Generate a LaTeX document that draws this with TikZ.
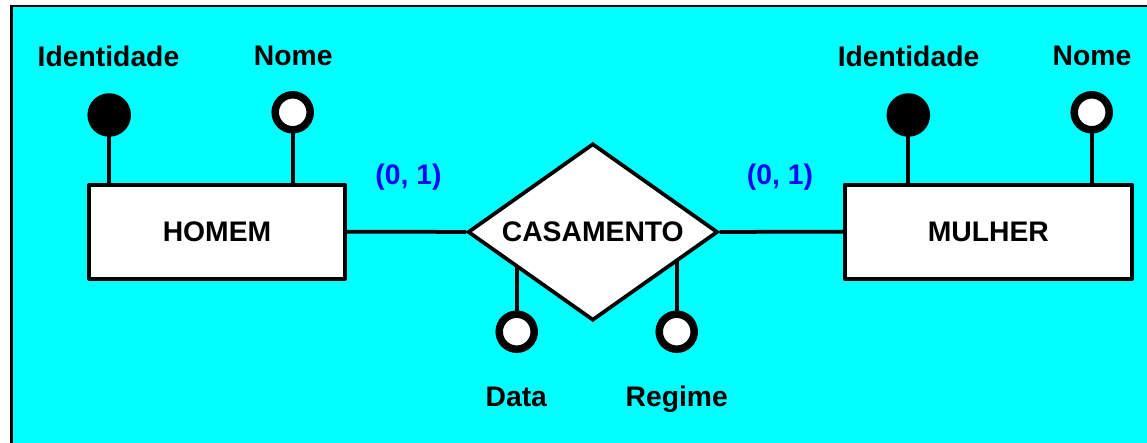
\documentclass[tikz,border=0pt]{standalone}
\usepackage{fontspec}
\setmainfont{Liberation Sans}
\usetikzlibrary{shapes.geometric,backgrounds}
\definecolor{bgcyan}{RGB}{0,255,255}
\definecolor{cardblue}{RGB}{10,10,240}
\tikzset{
  txt/.style={font=\fontsize{28.3}{34}\selectfont\bfseries},
  lbl/.style={txt, anchor=base, inner sep=0pt},
  card/.style={lbl, text=cardblue},
  entity/.style={txt, draw, fill=white, line width=3.75pt, line join=round,
    minimum height=94pt, inner sep=0pt},
  rel/.style={txt, diamond, aspect=1.41, draw, fill=white, line width=3.75pt,
    minimum width=250pt, minimum height=177pt, inner sep=0pt},
  keyattr/.style={circle, draw, fill=black, line width=7.5pt,
    minimum size=36pt, inner sep=0pt},
  attr/.style={circle, draw, fill=white, line width=7.5pt,
    minimum size=35pt, inner sep=0pt},
  link/.style={line width=3.75pt}
}
\begin{document}
\begin{tikzpicture}[x=1pt, y=-1pt]
  \useasboundingbox (0,0) rectangle (1147,443);
  \begin{scope}[on background layer]
    \fill[white] (0,0) rectangle (1147,443);
    \fill[bgcyan] (11.5,6.2) rectangle (1147,443);
    \draw[line width=2.5pt] (11.5,443) -- (11.5,6.2) -- (1147,6.2);
  \end{scope}

  % entities and relationship
  \node[entity, minimum width=255.4pt] (homem) at (217,231.7) {HOMEM};
  \node[entity, minimum width=287.3pt] (mulher) at (988.3,231.7) {MULHER};
  \node[rel] (cas) at (592.8,232) {CASAMENTO};

  % attributes of HOMEM
  \node[keyattr] (idH) at (109.2,115) {};
  \node[attr] (nomeH) at (292.7,112.3) {};
  \node[lbl] (idHtxt) at (108.5,66.3) {Identidade};
  \node[lbl] (nomeHtxt) at (293.3,66) {Nome};

  % attributes of MULHER
  \node[keyattr] (idM) at (908.3,115) {};
  \node[attr] (nomeM) at (1091.7,112.3) {};
  \node[lbl] (idMtxt) at (908.5,66.3) {Identidade};
  \node[lbl] (nomeMtxt) at (1092,66) {Nome};

  % attributes of CASAMENTO
  \node[attr] (data) at (516.7,331.7) {};
  \node[attr] (regime) at (676.7,331.7) {};
  \node[lbl] (datatxt) at (516.3,406) {Data};
  \node[lbl] (regimetxt) at (676.7,406) {Regime};

  % cardinalities
  \node[card] (cardH) at (408.5,185) {(0, 1)};
  \node[card] (cardM) at (780,185) {(0, 1)};

  % connectors, kept under the filled shapes
  \begin{scope}[on background layer]
    \draw[link] (homem) -- (cas);
    \draw[link] (cas) -- (mulher);
    \draw[link] (idH.center) -- (idH.center |- homem.center);
    \draw[link] (nomeH.center) -- (nomeH.center |- homem.center);
    \draw[link] (idM.center) -- (idM.center |- mulher.center);
    \draw[link] (nomeM.center) -- (nomeM.center |- mulher.center);
    \draw[link] (data.center) -- (data.center |- cas.center);
    \draw[link] (regime.center) -- (regime.center |- cas.center);
  \end{scope}
\end{tikzpicture}
\end{document}
